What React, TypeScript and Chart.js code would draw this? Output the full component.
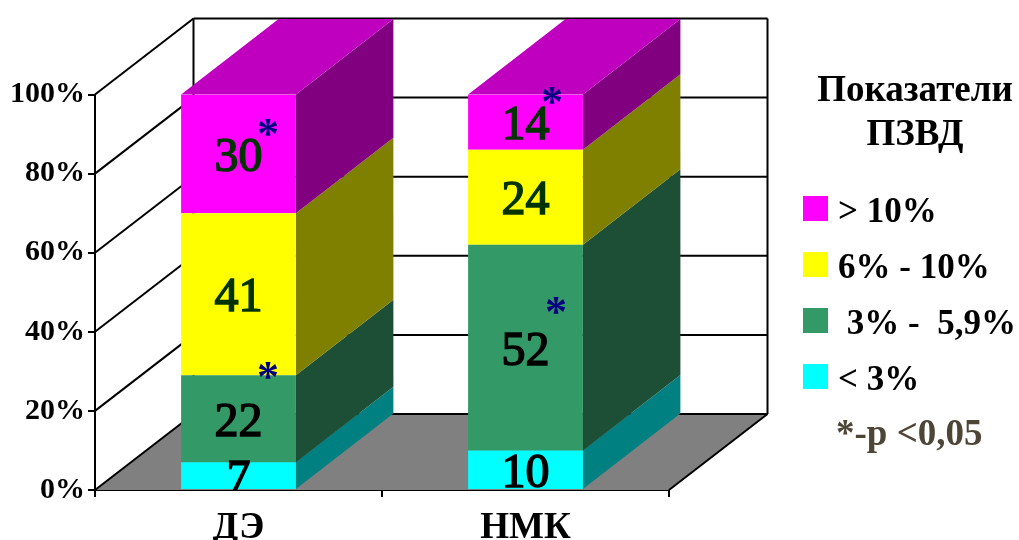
import React, { useEffect, useRef } from "react";
import { Chart, registerables } from "chart.js";

Chart.register(...registerables);

const categories = ["ДЭ", "НМК"];
const seriesNames = ["< 3%", " 3% -  5,9%", "6% - 10%", "> 10%"];
const under3 = [7, 10];
const from3to6 = [22, 52];
const from6to10 = [41, 24];
const over10 = [30, 14];
const yTicks = [0, 20, 40, 60, 80, 100];
const legendTitle = ["Показатели", "ПЗВД"];
const legendNote = "*-р <0,05";

const FRONT = ["#00ffff", "#339966", "#ffff00", "#ff00ff"];
const SIDE = ["#008080", "#1c4f36", "#808000", "#800080"];
const TOP = "#bf00bf";
const LABEL = ["#000000", "#000000", "#003300", "#003300"];
const SERIF = '"Liberation Serif", serif';

const BAR_DX = 97.5;
const BAR_DY = 75.5;
const WALL_DX = 98.5;
const WALL_DY = 76;

// Significance stars: category, series, offset from the segment's top right corner
const stars = [
  { cat: 0, ser: 3, dx: -28, dy: 53 },
  { cat: 0, ser: 1, dx: -28, dy: 16 },
  { cat: 1, ser: 3, dx: -31, dy: 21 },
  { cat: 1, ser: 1, dx: -27, dy: 81 },
];

const poly = (ctx: CanvasRenderingContext2D, pts: number[][], fill: string) => {
  ctx.beginPath();
  pts.forEach(([x, y], i) => (i ? ctx.lineTo(x, y) : ctx.moveTo(x, y)));
  ctx.closePath();
  ctx.fillStyle = fill;
  ctx.fill();
};

const seg = (ctx: CanvasRenderingContext2D, x1: number, y1: number, x2: number, y2: number, w: number) => {
  ctx.beginPath();
  ctx.moveTo(x1, y1);
  ctx.lineTo(x2, y2);
  ctx.lineWidth = w;
  ctx.strokeStyle = "#000000";
  ctx.stroke();
};

// Floor, side wall and back wall, then the extruded faces of each bar
const box3d = {
  id: "box3d",
  beforeDatasetsDraw(chart: any) {
    const { ctx, chartArea: a, scales } = chart;
    ctx.save();
    poly(
      ctx,
      [
        [a.left, a.bottom],
        [a.left + WALL_DX, a.bottom - WALL_DY],
        [a.right + WALL_DX, a.bottom - WALL_DY],
        [a.right, a.bottom],
      ],
      "#808080"
    );
    yTicks.forEach((t) => {
      const y = scales.y.getPixelForValue(t);
      seg(ctx, a.left, y, a.left + WALL_DX, y - WALL_DY, 2);
      seg(ctx, a.left + WALL_DX, y - WALL_DY, a.right + WALL_DX, y - WALL_DY, 2);
    });
    seg(ctx, a.left + WALL_DX, a.top - WALL_DY, a.left + WALL_DX, a.bottom - WALL_DY, 2);
    seg(ctx, a.right + WALL_DX, a.top - WALL_DY, a.right + WALL_DX, a.bottom - WALL_DY, 2);
    seg(ctx, a.right, a.bottom, a.right + WALL_DX, a.bottom - WALL_DY, 2);

    chart.data.datasets.forEach((_: any, s: number) => {
      chart.getDatasetMeta(s).data.forEach((bar: any) => {
        const l = bar.x - bar.width / 2;
        const r = bar.x + bar.width / 2;
        poly(
          ctx,
          [
            [r, bar.y],
            [r + BAR_DX, bar.y - BAR_DY],
            [r + BAR_DX, bar.base - BAR_DY],
            [r, bar.base],
          ],
          SIDE[s]
        );
        if (s === chart.data.datasets.length - 1) {
          poly(
            ctx,
            [
              [l, bar.y],
              [l + BAR_DX, bar.y - BAR_DY],
              [r + BAR_DX, bar.y - BAR_DY],
              [r, bar.y],
            ],
            TOP
          );
        }
      });
    });
    ctx.restore();
  },
};

// Values inside the segments, stars, and the legend column on the right
const annotations = {
  id: "annotations",
  afterDatasetsDraw(chart: any) {
    const { ctx, chartArea: a } = chart;
    ctx.save();
    ctx.beginPath();
    ctx.rect(0, 0, chart.width, a.bottom);
    ctx.clip();
    ctx.textAlign = "center";
    ctx.textBaseline = "alphabetic";
    ctx.font = `48px ${SERIF}`;
    ctx.lineWidth = 1.5;
    chart.data.datasets.forEach((ds: any, s: number) => {
      chart.getDatasetMeta(s).data.forEach((bar: any, c: number) => {
        const y = (bar.y + bar.base) / 2 + 17;
        ctx.fillStyle = LABEL[s];
        ctx.strokeStyle = LABEL[s];
        ctx.fillText(String(ds.data[c]), bar.x, y);
        ctx.strokeText(String(ds.data[c]), bar.x, y);
      });
    });
    ctx.font = `bold 44px ${SERIF}`;
    ctx.fillStyle = "#000080";
    stars.forEach(({ cat, ser, dx, dy }) => {
      const bar = chart.getDatasetMeta(ser).data[cat];
      ctx.fillText("*", bar.x + bar.width / 2 + dx, bar.y + dy);
    });
    ctx.restore();

    ctx.save();
    ctx.fillStyle = "#000000";
    ctx.font = `bold 37px ${SERIF}`;
    ctx.textAlign = "center";
    ctx.fillText(legendTitle[0], 915, 101);
    ctx.fillText(legendTitle[1], 915, 145);
    ctx.textAlign = "left";
    ctx.font = `bold 35px ${SERIF}`;
    [...seriesNames].reverse().forEach((name, i) => {
      const top = 196 + i * 56;
      ctx.fillStyle = FRONT[FRONT.length - 1 - i];
      ctx.fillRect(803, top, 25, 25);
      ctx.fillStyle = "#000000";
      ctx.fillText(name, 838, top + 26);
    });
    ctx.font = `bold 37px ${SERIF}`;
    ctx.fillStyle = "#4d4637";
    ctx.fillText(legendNote, 836, 445);
    ctx.restore();
  },
};

export default function App() {
  const ref = useRef<HTMLCanvasElement>(null);

  useEffect(() => {
    const values = [under3, from3to6, from6to10, over10];
    const chart = new Chart(ref.current!, {
      type: "bar",
      data: {
        labels: categories,
        datasets: seriesNames.map((label, i) => ({
          label,
          data: values[i],
          backgroundColor: FRONT[i],
          borderWidth: 0,
          barPercentage: 1,
          categoryPercentage: 0.4,
        })),
      },
      options: {
        responsive: false,
        animation: false,
        layout: { padding: { top: 94.5, right: 350, left: 0, bottom: 0 } },
        plugins: { legend: { display: false }, tooltip: { enabled: false }, title: { display: false } },
        scales: {
          x: {
            stacked: true,
            afterFit: (s: any) => {
              s.height = 50;
            },
            grid: { drawOnChartArea: false, drawTicks: true, tickLength: 7, tickColor: "#000000", lineWidth: 2 },
            border: { color: "#000000", width: 2 },
            ticks: { color: "#000000", font: { family: "Liberation Serif", size: 37, weight: "bold" }, padding: 9, maxRotation: 0 },
          },
          y: {
            stacked: true,
            min: 0,
            max: 100,
            afterFit: (s: any) => {
              s.width = 95;
            },
            afterBuildTicks: (s: any) => {
              s.ticks = yTicks.map((value) => ({ value }));
            },
            grid: { drawOnChartArea: false, drawTicks: true, tickLength: 7, tickColor: "#000000", lineWidth: 2 },
            border: { color: "#000000", width: 2 },
            ticks: {
              color: "#000000",
              font: { family: "Liberation Serif", size: 30, weight: "bold" },
              padding: 3,
              callback: (v: any) => `${v}%`,
            },
          },
        },
      },
      plugins: [box3d, annotations],
    } as any);
    return () => chart.destroy();
  }, []);

  return (
    <canvas
      ref={ref}
      width={1019}
      height={540}
      style={{ position: "absolute", left: 0, top: 0, display: "block", background: "#ffffff" }}
    />
  );
}
